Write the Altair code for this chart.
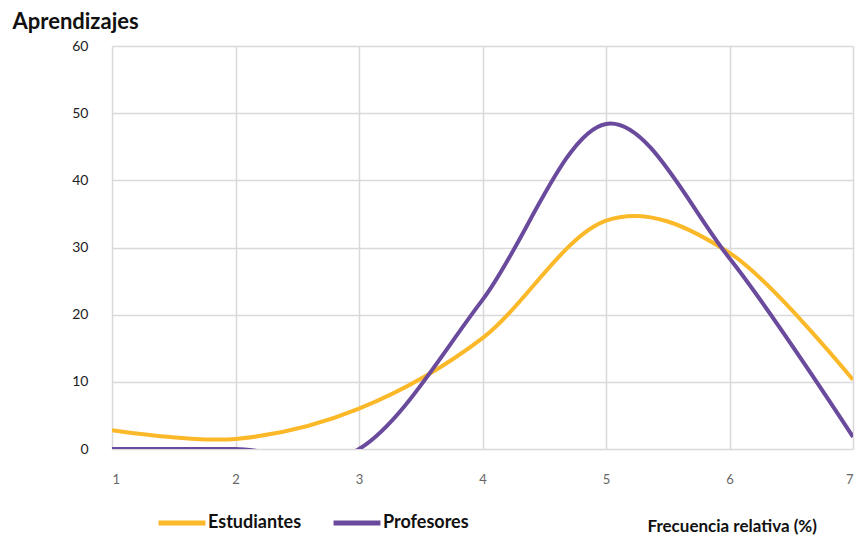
import altair as alt
import pandas as pd

x_vals = [1, 2, 3, 4, 5, 6, 7]
estudiantes = [2.8, 1.5, 6.0, 16.5, 34.0, 29.2, 10.3]
profesores = [0.0, 0.0, 0.0, 22.2, 48.4, 28.4, 1.8]
series_names = ["Estudiantes", "Profesores"]
colors = ["#FBB829", "#6A4A9C"]

rows = []
for xv, e, p in zip(x_vals, estudiantes, profesores):
    rows.append({"x": xv, "v": e, "serie": series_names[0]})
    rows.append({"x": xv, "v": p, "serie": series_names[1]})
df = pd.DataFrame(rows)

FONT = "Lato"

chart = alt.Chart(df).mark_line(
    interpolate="cardinal", tension=0, strokeWidth=4, clip=True, strokeCap="butt"
).encode(
    x=alt.X("x:Q", scale=alt.Scale(domain=[1, 7], nice=False, zero=False),
            axis=alt.Axis(values=x_vals, format="d", title="Frecuencia relativa (%)",
                          titleX=535, titleY=82, titleAlign="left", titleAnchor="start",
                          titleBaseline="alphabetic", titleFontSize=17, titleFontWeight="bold",
                          titleColor="#111", titleFont=FONT,
                          labelColor="#666", labelFontSize=13, labelPadding=24, labelFont=FONT,
                          domain=False, ticks=False, gridColor="#d9d9d9", gridWidth=1.5)),
    y=alt.Y("v:Q", scale=alt.Scale(domain=[0, 60], nice=False),
            axis=alt.Axis(values=[0, 10, 20, 30, 40, 50, 60], title="Aprendizajes",
                          titleAngle=0, titleX=-100, titleY=-18, titleAlign="left",
                          titleBaseline="alphabetic", titleFontSize=22, titleFontWeight="bold",
                          titleColor="#111", titleFont=FONT,
                          labelColor="#222", labelFontSize=14, labelPadding=24, labelFont=FONT,
                          domain=False, ticks=False, gridColor="#d9d9d9", gridWidth=1.5)),
    color=alt.Color("serie:N", scale=alt.Scale(domain=series_names, range=colors),
                    legend=alt.Legend(title=None, orient="none", direction="horizontal",
                                      legendX=44, legendY=451,
                                      symbolType="stroke", symbolSize=2200, symbolStrokeWidth=5,
                                      labelFontSize=18, labelFontWeight="bold", labelColor="#111",
                                      labelFont=FONT, labelOffset=0, columnPadding=21,
                                      symbolOffset=0))
).properties(
    width=741, height=403,
    padding={"left": 104, "top": 38, "right": 6, "bottom": 95},
    autosize=alt.AutoSizeParams(type="none"),
).configure_view(stroke=None)

chart.save("out.html", embed_options={"renderer": "svg", "actions": False})
